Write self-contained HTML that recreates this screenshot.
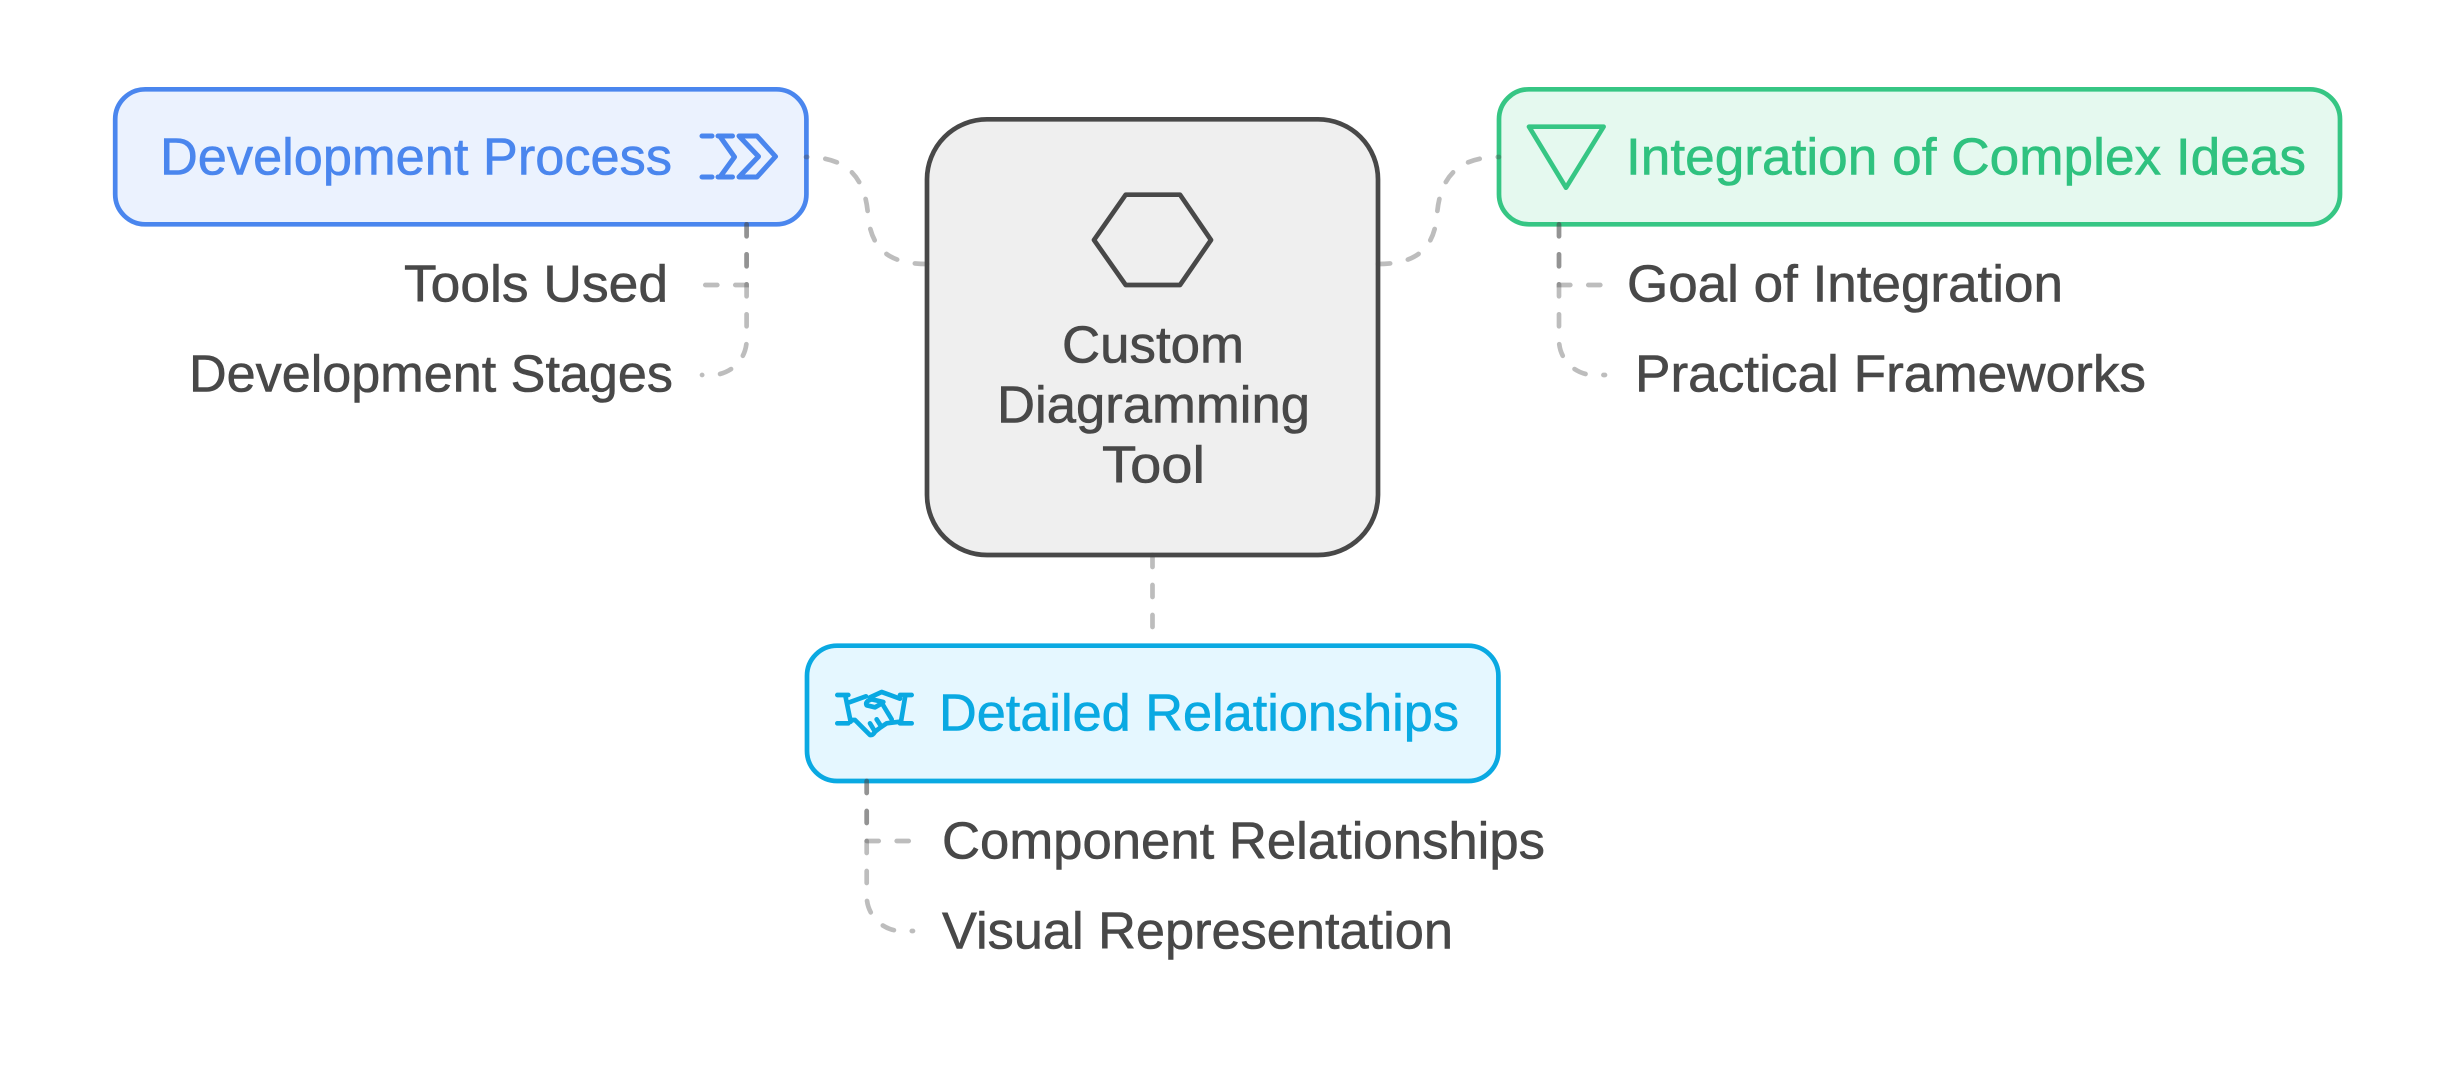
<!DOCTYPE html>
<html lang="en">
<head>
<meta charset="utf-8">
<title>Custom Diagramming Tool</title>
<style>
html,body{margin:0;padding:0;background:#fff;}
svg{display:block;}
text{font-family:"Liberation Sans",sans-serif;font-size:52px;stroke-width:.6;paint-order:stroke;}
.d{fill:#484848;stroke:#484848;}
.c{fill:none;stroke:#484848;stroke-opacity:.36;stroke-width:4.7;stroke-linecap:round;stroke-dasharray:12 18;}
</style>
</head>
<body>
<svg xmlns="http://www.w3.org/2000/svg" width="2446" height="1084" viewBox="0 0 2446 1084">
<rect width="2446" height="1084" fill="#fff"/>

<!-- Nodes -->
<rect x="927" y="119.300" width="451" height="435.700" rx="60" fill="#efefef" stroke="#484848" stroke-width="4.700"/>
<rect x="115.200" y="89.300" width="691.200" height="135" rx="30" fill="#ebf2fe" stroke="#4a86ee" stroke-width="4.700"/>
<rect x="1499" y="89.300" width="841" height="135" rx="30" fill="#e5f9ef" stroke="#36c684" stroke-width="4.700"/>
<rect x="807" y="645.700" width="691.400" height="135.300" rx="30" fill="#e5f7ff" stroke="#0aa9e2" stroke-width="4.700"/>

<!-- Hexagon -->
<polygon points="1094,240 1125.700,194.700 1180,194.700 1211,240 1180,285 1125.700,285" fill="none" stroke="#484848" stroke-width="4.700" stroke-linejoin="round"/>

<!-- Chevrons -->
<g fill="none" stroke="#4a86ee" stroke-width="5" stroke-linecap="round" stroke-linejoin="round">
<path d="M702 136H712M702 177H712"/>
<path d="M718 136H732.500M718 177H732.500M720 136.500L734.500 157L720 177"/>
<path d="M739 136H757L775.500 156.500L757 177H739L758.500 156.500Z"/>
</g>

<!-- Triangle -->
<polygon points="1529,126.700 1603.600,126.700 1566,187.700" fill="none" stroke="#36c684" stroke-width="4.700" stroke-linejoin="round"/>

<!-- Handshake -->
<g transform="translate(820 670) scale(.3333)" fill="none" stroke="#0aa9e2" stroke-width="14" stroke-linecap="round" stroke-linejoin="round">
<path d="M52 75H85M52 160H85M76 77L92 155"/>
<path d="M240 75H275M240 160H275M256 77L243 155"/>
<path d="M88 97L138 79"/>
<path d="M150 82L185 66L240 86"/>
<path d="M92 150H105L150 195Q158 197 165 185L182 172L200 160L240 155"/>
<path d="M190 96L155 88Q134 94 140 106L165 112L186 100L215 148"/>
<path d="M165 185L150 160M184 170L170 148"/>
</g>

<!-- Connectors -->
<path class="c" pathLength="181" d="M927 264C890 264 871 250 868 215C865 175 845 157 806 157"/>
<path class="c" pathLength="181" d="M1378 264C1415 264 1434 250 1437 215C1440 175 1460 157 1499 157"/>
<path class="c" d="M1152.500 555V642"/>

<path class="c" d="M746.600 224.300V285H703"/>
<path class="c" d="M746.600 224.300V340A35 35 0 0 1 711.600 375H702"/>

<path class="c" d="M1559 224.300V285H1602"/>
<path class="c" d="M1559 224.300V340A35 35 0 0 0 1594 375H1605"/>

<path class="c" d="M866.700 781V841H911.600"/>
<path class="c" d="M866.700 781V896A35 35 0 0 0 901.700 931H913"/>

<!-- Labels -->
<text class="d" x="1062" y="362.700" textLength="182" lengthAdjust="spacingAndGlyphs">Custom</text>
<text class="d" x="997" y="422.700" textLength="313" lengthAdjust="spacingAndGlyphs">Diagramming</text>
<text class="d" x="1102" y="482.700" textLength="103" lengthAdjust="spacingAndGlyphs">Tool</text>

<text x="160" y="174.300" fill="#4a86ee" stroke="#4a86ee" textLength="512" lengthAdjust="spacingAndGlyphs">Development Process</text>
<text class="d" x="404" y="301.700" textLength="264" lengthAdjust="spacingAndGlyphs">Tools Used</text>
<text class="d" x="189" y="391.700" textLength="484" lengthAdjust="spacingAndGlyphs">Development Stages</text>

<text x="1626" y="174.300" fill="#2fc27f" stroke="#2fc27f" textLength="680" lengthAdjust="spacingAndGlyphs">Integration of Complex Ideas</text>
<text class="d" x="1627" y="301.700" textLength="436" lengthAdjust="spacingAndGlyphs">Goal of Integration</text>
<text class="d" x="1635" y="391.700" textLength="511" lengthAdjust="spacingAndGlyphs">Practical Frameworks</text>

<text x="939" y="730.700" fill="#0aa9e2" stroke="#0aa9e2" textLength="520" lengthAdjust="spacingAndGlyphs">Detailed Relationships</text>
<text class="d" x="942" y="858.300" textLength="603" lengthAdjust="spacingAndGlyphs">Component Relationships</text>
<text class="d" x="942" y="948.300" textLength="511" lengthAdjust="spacingAndGlyphs">Visual Representation</text>
</svg>
</body>
</html>
